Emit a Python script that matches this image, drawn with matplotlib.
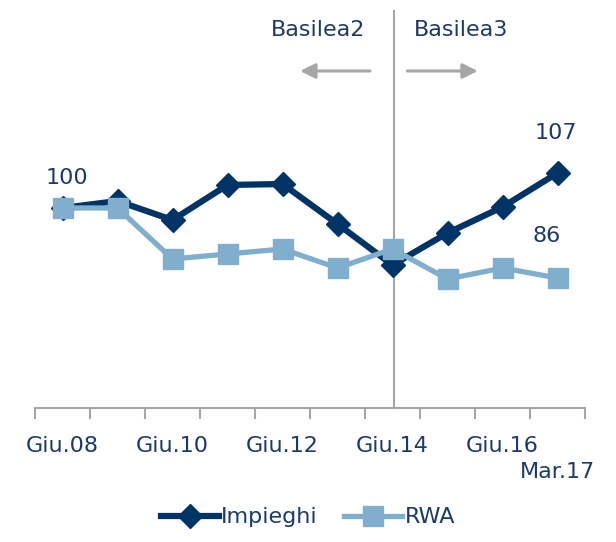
"""Impieghi vs RWA index (Giu.08 = 100), Basilea2 / Basilea3 split."""
import matplotlib
matplotlib.use("Agg")
import matplotlib.pyplot as plt

# ----- data -----
periods = ["Giu.08", "Giu.09", "Giu.10", "Giu.11", "Giu.12",
           "Giu.13", "Giu.14", "Giu.15", "Giu.16", "Mar.17"]
shown_labels = ["Giu.08", "", "Giu.10", "", "Giu.12",
                "", "Giu.14", "", "Giu.16", ""]
impieghi = [100, 101.4, 97.6, 104.6, 104.8, 96.8, 88.6, 95.0, 100.2, 107]
rwa = [100, 100, 89.8, 90.8, 91.8, 88.0, 91.8, 85.8, 88.0, 86]

TXT = "#1B3A6B"
NAVY = "#003366"
LIGHT = "#7FAFCD"
GREY = "#A6A6A6"

plt.rcParams["font.family"] = ["DejaVu Sans"]

fig = plt.figure(figsize=(6.16, 5.42), dpi=100)
ax = fig.add_axes([35 / 616, 134 / 542, 550 / 616, 400 / 542])

x = list(range(len(periods)))
ax.plot(x, impieghi, color=NAVY, lw=4.5, marker="D", ms=12,
        label="Impieghi", zorder=3)
ax.plot(x, rwa, color=LIGHT, lw=3.8, marker="s", ms=14,
        label="RWA", zorder=4)

ax.set_xlim(-0.5, 9.5)
ax.set_ylim(60, 140)

# ----- axes styling -----
for s in ["top", "right", "left"]:
    ax.spines[s].set_visible(False)
ax.spines["bottom"].set_color(GREY)
ax.spines["bottom"].set_linewidth(1.5)
ax.set_yticks([])
ax.set_xticks([i - 0.5 for i in range(len(periods) + 1)])
ax.set_xticklabels([])
ax.tick_params(axis="x", which="major", length=8, width=1.5, color=GREY)
ax.set_xticks(x, minor=True)
ax.set_xticklabels(shown_labels, minor=True, fontsize=16, color=TXT,
                   va="top")
ax.tick_params(axis="x", which="minor", length=0, pad=20)
# last period sits on a second row
ax.annotate(periods[-1], xy=(x[-1], 0), xycoords=("data", "axes fraction"),
            xytext=(0, -64), textcoords="offset pixels",
            ha="center", va="center", fontsize=16, color=TXT)

# ----- regime split -----
ax.plot([6.03, 6.03], [60, 139.5], color=GREY, lw=1.5, zorder=1,
        clip_on=False)
arrow = dict(arrowstyle="-|>,head_length=0.9,head_width=0.45",
             color=GREY, lw=2.2)
ax.annotate("", xy=(4.27, 127.4), xytext=(5.64, 127.4), arrowprops=arrow)
ax.annotate("", xy=(7.6, 127.4), xytext=(6.22, 127.4), arrowprops=arrow)
ax.text(4.65, 135.6, "Basilea2", ha="center", va="center",
        fontsize=16, color=TXT)
ax.text(7.25, 135.6, "Basilea3", ha="center", va="center",
        fontsize=16, color=TXT)

# ----- value labels -----
ax.text(0.08, 106, "100", ha="center", va="center", fontsize=16, color=TXT)
ax.text(8.97, 115, "107", ha="center", va="center", fontsize=16, color=TXT)
ax.text(8.8, 94.5, "86", ha="center", va="center", fontsize=16, color=TXT)

leg = fig.legend(loc="lower center", bbox_to_anchor=(0.5, -0.01), ncol=2,
                 frameon=False, fontsize=16, handlelength=2.6,
                 columnspacing=1.2, handletextpad=0.1)
for t in leg.get_texts():
    t.set_color(TXT)

fig.savefig("out.png", dpi=100)
